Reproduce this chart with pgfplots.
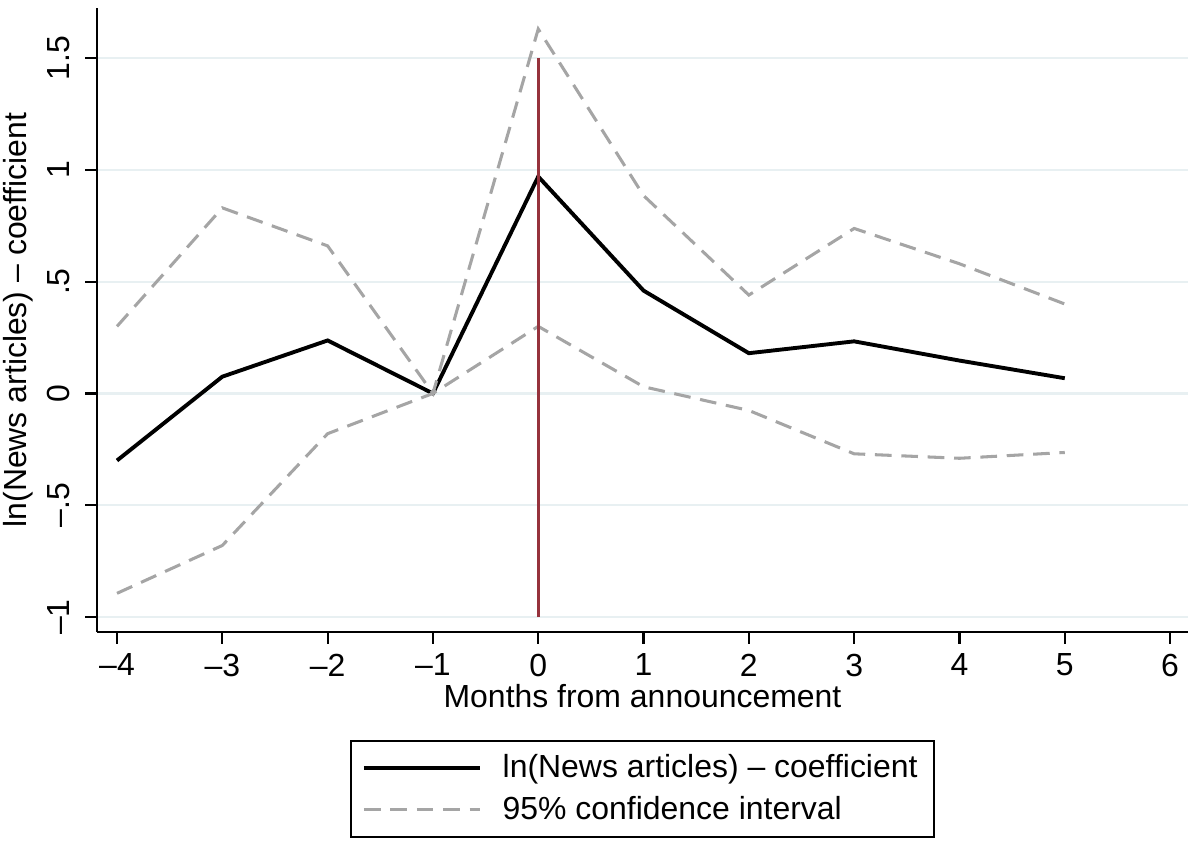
\documentclass[border=0pt]{standalone}
\usepackage{pgfplots}
\pgfplotsset{compat=1.18}
\usepackage{fontspec}
\setmainfont{Liberation Sans}
\definecolor{cigray}{RGB}{165,165,165}
\definecolor{vmaroon}{RGB}{150,50,60}
\definecolor{gridc}{RGB}{232,240,242}
\begin{document}
\begin{tikzpicture}
\begin{axis}[
  name=ax,
  scale only axis,
  width=392.76pt, height=224.64pt,
  xmin=-4.19, xmax=6.17,
  ymin=-1.067, ymax=1.724,
  axis x line*=bottom, axis y line*=left,
  axis line style={line width=0.8pt, -},
  xtick={-4,-3,-2,-1,0,1,2,3,4,5,6},
  xticklabels={–4,–3,–2,–1,0,1,2,3,4,5,6},
  ytick={-1,-0.5,0,0.5,1,1.5},
  yticklabels={–1,–.5,0,.5,1,1.5},
  tick align=outside,
  major tick length=4.3pt,
  tick style={line width=0.8pt, black},
  ymajorgrids,
  major grid style={gridc, line width=0.8pt},
  yticklabel style={rotate=90, anchor=south, font=\fontsize{11.5}{12}\selectfont, yshift=2pt},
  xticklabel style={font=\fontsize{11.5}{12}\selectfont},
  xlabel={Months from announcement},
  ylabel={ln(News articles) – coefficient},
  label style={font=\fontsize{11.5}{12}\selectfont},
  xlabel style={yshift=4pt},
  ylabel style={yshift=-2pt},
  legend style={at={(0.232,-0.173)}, anchor=north west, draw=black, line width=0.6pt,
    font=\fontsize{11.5}{14}\selectfont, row sep=1pt, inner xsep=4pt, inner ysep=3pt},
  legend cell align=left,
  legend image code/.code={\draw[#1] (0cm,0cm) -- (1.47cm,0cm); \path (1.47cm+5.4pt,0cm);},
]
\addplot[black, line width=1.4pt] coordinates {
(-4,-0.30) (-3,0.075) (-2,0.237) (-1,0) (0,0.97) (1,0.46) (2,0.18) (3,0.233) (4,0.147) (5,0.068)
};
\addlegendentry{ln(News articles) – coefficient}
\addplot[cigray, line width=1.1pt, dash pattern=on 6pt off 3.5pt] coordinates {
(-4,0.30) (-3,0.83) (-2,0.66) (-1,0) (0,1.63) (1,0.885) (2,0.44) (3,0.738) (4,0.58) (5,0.40)
};
\addlegendentry{95\% confidence interval}
\addplot[cigray, line width=1.1pt, dash pattern=on 6pt off 3.5pt, forget plot] coordinates {
(-4,-0.894) (-3,-0.68) (-2,-0.18) (-1,0) (0,0.30) (1,0.03) (2,-0.076) (3,-0.27) (4,-0.29) (5,-0.264)
};
\addplot[vmaroon, line width=1.1pt, forget plot] coordinates {(0,-1) (0,1.5)};
\end{axis}
\pgfresetboundingbox
\path[use as bounding box] ([shift={(-34.92pt,-74.88pt)}]ax.south west) rectangle ([shift={(392.76pt,227.52pt)}]ax.south west);
\end{tikzpicture}
\end{document}
